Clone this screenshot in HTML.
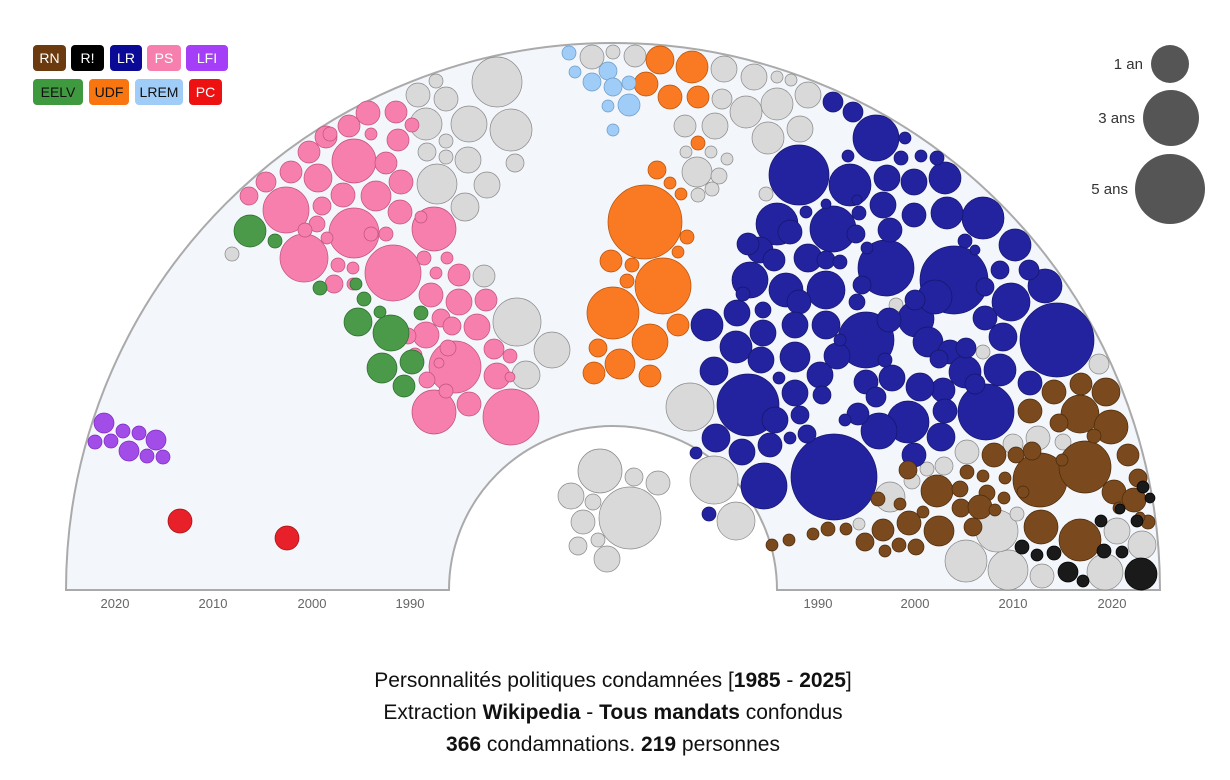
<!DOCTYPE html>
<html><head><meta charset="utf-8"><style>
body{margin:0;background:#fff;width:1230px;height:775px;overflow:hidden;font-family:"Liberation Sans",sans-serif}
</style></head><body>
<svg id="s" width="1230" height="775" xmlns="http://www.w3.org/2000/svg">
<path d="M66,590 A547,547 0 0 1 1160,590 L777,590 A164,164 0 0 0 449,590 Z" fill="#f3f6fb" stroke="#aaa" stroke-width="2"/>
<g id="c"></g>
<g font-size="13" fill="#666" text-anchor="middle">
<text x="115" y="608">2020</text><text x="213" y="608">2010</text><text x="312" y="608">2000</text><text x="410" y="608">1990</text>
<text x="818" y="608">1990</text><text x="915" y="608">2000</text><text x="1013" y="608">2010</text><text x="1112" y="608">2020</text>
</g>
<g font-size="21" fill="#111" text-anchor="middle">
<text x="613" y="687">Personnalités politiques condamnées [<tspan font-weight="bold">1985</tspan> - <tspan font-weight="bold">2025</tspan>]</text>
<text x="613" y="719">Extraction <tspan font-weight="bold">Wikipedia</tspan> - <tspan font-weight="bold">Tous mandats</tspan> confondus</text>
<text x="613" y="751"><tspan font-weight="bold">366</tspan> condamnations. <tspan font-weight="bold">219</tspan> personnes</text>
</g>
<g font-size="14" text-anchor="middle">
<rect x="33" y="45" width="33" height="26" rx="4" fill="#6b3a0e"/><text x="49.5" y="63" fill="#fff">RN</text>
<rect x="71" y="45" width="33" height="26" rx="4" fill="#000"/><text x="87.5" y="63" fill="#fff">R!</text>
<rect x="110" y="45" width="32" height="26" rx="4" fill="#0a0a96"/><text x="126" y="63" fill="#fff">LR</text>
<rect x="147" y="45" width="34" height="26" rx="4" fill="#f77fae"/><text x="164" y="63" fill="#fff">PS</text>
<rect x="186" y="45" width="42" height="26" rx="4" fill="#a43ef7"/><text x="207" y="63" fill="#fff">LFI</text>
<rect x="33" y="79" width="50" height="26" rx="4" fill="#3f9a3f"/><text x="58" y="97" fill="#111">EELV</text>
<rect x="89" y="79" width="40" height="26" rx="4" fill="#f97510"/><text x="109" y="97" fill="#111">UDF</text>
<rect x="135" y="79" width="48" height="26" rx="4" fill="#9fcdf7"/><text x="159" y="97" fill="#111">LREM</text>
<rect x="189" y="79" width="33" height="26" rx="4" fill="#ee1111"/><text x="205.5" y="97" fill="#fff">PC</text>
</g>
<g font-size="15" fill="#333" text-anchor="end">
<circle cx="1170" cy="64" r="19" fill="#555"/><text x="1143" y="69">1 an</text>
<circle cx="1171" cy="118" r="28" fill="#555"/><text x="1135" y="123">3 ans</text>
<circle cx="1170" cy="189" r="35" fill="#555"/><text x="1128" y="194">5 ans</text>
</g>
</svg>
<script>
var D={
g:["#d9d9d9","#888",[[497,82,25],[511,130,21],[469,124,18],[437,184,20],[465,207,14],[468,160,13],[487,185,13],[426,124,16],[446,99,12],[418,95,12],[436,81,7],[427,152,9],[446,141,7],[446,157,7],[515,163,9],[484,276,11],[517,322,24],[552,350,18],[526,375,14],[232,254,7],[592,57,12],[635,56,11],[613,52,7],[724,69,13],[754,77,13],[777,104,16],[746,112,16],[808,95,13],[800,129,13],[768,138,16],[685,126,11],[715,126,13],[722,99,10],[697,172,15],[719,176,8],[712,189,7],[698,195,7],[686,152,6],[711,152,6],[727,159,6],[766,194,7],[777,77,6],[791,80,6],[690,407,24],[714,480,24],[736,521,19],[600,471,22],[630,518,31],[571,496,13],[583,522,12],[578,546,9],[607,559,13],[634,477,9],[658,483,12],[593,502,8],[598,540,7],[890,497,15],[912,481,8],[927,469,7],[944,466,9],[967,452,12],[1013,444,10],[1038,438,12],[1063,442,8],[1099,364,10],[966,561,21],[1008,570,20],[997,531,21],[1042,576,12],[1105,572,18],[1117,531,13],[1142,545,14],[1017,514,7],[859,524,6],[896,305,7],[983,352,7],[911,456,7]]],
b:["#2323a0","#15156a",[[834,477,43],[748,405,31],[799,175,30],[954,280,34],[1057,340,37],[986,412,28],[866,340,28],[886,268,28],[876,138,23],[777,224,21],[833,229,23],[850,185,21],[908,422,21],[764,486,23],[916,319,18],[983,218,21],[1015,245,16],[947,213,16],[945,178,16],[914,182,13],[914,215,12],[887,178,13],[883,205,13],[890,230,12],[750,280,18],[786,290,17],[826,290,19],[808,258,14],[799,302,12],[760,250,13],[790,232,12],[748,244,11],[774,260,11],[856,234,9],[859,213,7],[826,260,9],[840,262,7],[857,302,8],[862,285,9],[1011,302,19],[1045,286,17],[1029,270,10],[1000,270,9],[985,287,9],[985,318,12],[1003,337,14],[935,297,17],[915,300,10],[889,320,12],[928,342,15],[950,352,12],[965,372,16],[1000,370,16],[1030,383,12],[966,348,10],[939,359,9],[943,390,12],[920,387,14],[892,378,13],[866,382,12],[876,397,10],[879,431,18],[914,455,12],[941,437,14],[945,411,12],[975,384,10],[837,356,13],[820,375,13],[795,393,13],[822,395,9],[800,415,9],[775,420,13],[770,445,12],[714,371,14],[736,347,16],[707,325,16],[737,313,13],[763,333,13],[795,357,15],[826,325,14],[795,325,13],[761,360,13],[763,310,8],[743,294,7],[779,378,6],[807,434,9],[790,438,6],[742,452,13],[716,438,14],[696,453,6],[709,514,7],[833,102,10],[853,112,10],[848,156,6],[905,138,6],[901,158,7],[921,156,6],[937,158,7],[858,414,11],[845,420,6],[806,212,6],[826,204,5],[857,200,5],[867,248,6],[965,241,7],[975,250,5],[840,340,6],[885,360,7]]],
n:["#7a4a1e","#4a2a0a",[[1040,480,27],[1085,467,26],[1080,540,21],[1041,527,17],[1080,414,19],[1111,427,17],[1106,392,14],[1081,384,11],[1054,392,12],[1030,411,12],[1059,423,9],[1032,451,9],[1062,460,6],[1094,436,7],[1128,455,11],[1114,492,12],[1138,478,9],[1134,500,12],[937,491,16],[939,531,15],[908,470,9],[909,523,12],[883,530,11],[865,542,9],[885,551,6],[899,545,7],[916,547,8],[878,499,7],[900,504,6],[923,512,6],[960,489,8],[967,472,7],[983,476,6],[987,493,8],[1005,478,6],[1023,492,6],[1016,455,8],[994,455,12],[961,508,9],[973,527,9],[980,507,12],[995,510,6],[1004,498,6],[772,545,6],[789,540,6],[813,534,6],[828,529,7],[846,529,6],[1148,522,7],[1119,508,6],[1140,517,5]]],
k:["#1a1a1a","#000",[[1141,574,16],[1068,572,10],[1083,581,6],[1104,551,7],[1101,521,6],[1122,552,6],[1137,521,6],[1120,509,5],[1054,553,7],[1037,555,6],[1022,547,7],[1143,487,6],[1150,498,5]]],
u:["#f97a22","#b5500a",[[645,222,37],[663,286,28],[613,313,26],[650,342,18],[620,364,15],[650,376,11],[594,373,11],[598,348,9],[611,261,11],[678,325,11],[632,265,7],[627,281,7],[660,60,14],[692,67,16],[670,97,12],[646,84,12],[698,97,11],[657,170,9],[670,183,6],[681,194,6],[698,143,7],[687,237,7],[678,252,6]]],
l:["#9fcdf7","#6a9ac6",[[569,53,7],[575,72,6],[592,82,9],[608,71,9],[629,105,11],[613,87,9],[629,83,7],[608,106,6],[613,130,6]]],
p:["#f77fae","#c0507e",[[354,161,22],[354,233,25],[393,273,28],[304,258,24],[286,210,23],[434,229,22],[455,367,26],[434,412,22],[511,417,28],[318,178,14],[343,195,12],[376,196,15],[401,182,12],[400,212,12],[386,163,11],[398,140,11],[412,125,7],[396,112,11],[368,113,12],[349,126,11],[326,137,11],[309,152,11],[291,172,11],[266,182,10],[249,196,9],[322,206,9],[317,224,8],[327,238,6],[305,230,7],[338,265,7],[353,268,6],[334,284,9],[353,284,6],[371,234,7],[386,234,7],[421,217,6],[424,258,7],[447,258,6],[436,273,6],[459,275,11],[431,295,12],[459,302,13],[486,300,11],[441,318,9],[477,327,13],[426,335,13],[452,326,9],[448,348,8],[494,349,10],[510,356,7],[497,376,13],[469,404,12],[446,391,7],[408,336,8],[415,355,7],[427,380,8],[510,377,5],[439,363,5],[330,134,7],[371,134,6]]],
e:["#4a9a4a","#2a6a2a",[[250,231,16],[275,241,7],[358,322,14],[391,333,18],[382,368,15],[412,362,12],[404,386,11],[356,284,6],[364,299,7],[320,288,7],[380,312,6],[421,313,7]]],
f:["#a24de8","#7a2ac0",[[104,423,10],[123,431,7],[139,433,7],[156,440,10],[95,442,7],[111,441,7],[129,451,10],[147,456,7],[163,457,7]]],
r:["#e8202a","#a01010",[[180,521,12],[287,538,12]]]};
var h="";for(var k in D){var a=D[k];a[2].forEach(function(c){h+='<circle cx="'+c[0]+'" cy="'+c[1]+'" r="'+c[2]+'" fill="'+a[0]+'" stroke="'+a[1]+'" stroke-width="0.7"/>';});}
document.getElementById("c").innerHTML=h;
</script>
</body></html>
